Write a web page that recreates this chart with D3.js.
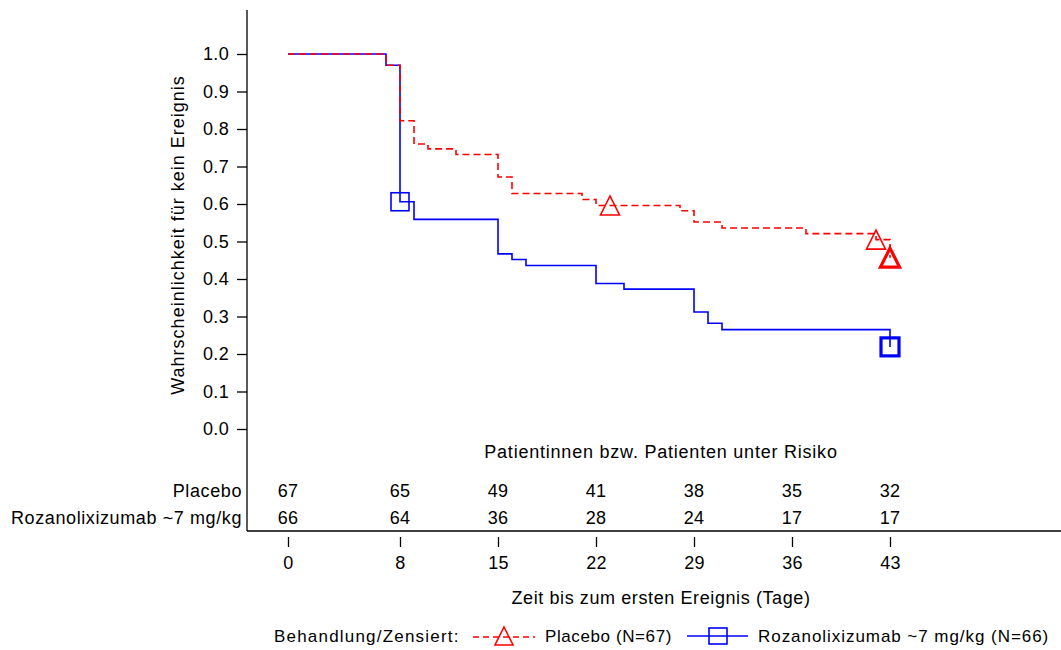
<!DOCTYPE html>
<html>
<head>
<meta charset="utf-8">
<script src="https://cdn.jsdelivr.net/npm/d3@7"></script>
<style>
  html, body { margin: 0; padding: 0; background: #fff; }
  svg { display: block; }
  text { font-family: "Liberation Sans", Arial, sans-serif; fill: #000; }
</style>
</head>
<body>
<svg id="chart" width="1061" height="650"></svg>
<script>
// ---------- data ----------
const placeboTimes = [0, 7, 8, 9, 10, 12, 15, 16, 21, 22, 28, 29, 31, 37, 42, 43];
const placeboSurv  = [1.0, 0.970, 0.822, 0.760, 0.747, 0.732, 0.672, 0.628, 0.612, 0.596, 0.582, 0.552, 0.536, 0.521, 0.505, 0.457];
const rozaTimes = [0, 7, 8, 9, 15, 16, 17, 22, 24, 29, 30, 31, 43];
const rozaSurv  = [1.0, 0.970, 0.606, 0.559, 0.467, 0.452, 0.436, 0.388, 0.373, 0.312, 0.282, 0.265, 0.219];

const placeboCensorT = [23, 42, 43];
const placeboCensorS = [0.596, 0.505, 0.457];
const placeboCensorMulti = [false, false, true];
const rozaCensorT = [8, 43];
const rozaCensorS = [0.606, 0.219];
const rozaCensorMulti = [false, true];

const xTicks = [0, 8, 15, 22, 29, 36, 43];
const yTicks = [0, 0.1, 0.2, 0.3, 0.4, 0.5, 0.6, 0.7, 0.8, 0.9, 1.0];
const riskPlacebo = [67, 65, 49, 41, 38, 35, 32];
const riskRoza = [66, 64, 36, 28, 24, 17, 17];

const riskLabels = ["Placebo", "Rozanolixizumab ~7 mg/kg"];
const legendLabels = ["Placebo (N=67)", "Rozanolixizumab ~7 mg/kg (N=66)"];
const yTitle = "Wahrscheinlichkeit für kein Ereignis";
const xTitle = "Zeit bis zum ersten Ereignis (Tage)";
const riskTitle = "Patientinnen bzw. Patienten unter Risiko";
const legendTitle = "Behandlung/Zensiert:";

// ---------- layout ----------
const RED = "#ff0000", BLUE = "#0000ff";
const svg = d3.select("#chart");
const x = d3.scaleLinear().domain([0, 43]).range([288, 890]);
const y = d3.scaleLinear().domain([0, 1]).range([429, 54]);
const axisX = 247, frameBottom = 531, frameTop = 10, frameRight = 1061;

// frame lines
svg.append("line").attr("x1", axisX).attr("x2", axisX).attr("y1", frameTop).attr("y2", frameBottom)
  .attr("stroke", "#000").attr("stroke-width", 1.3);
svg.append("line").attr("x1", axisX).attr("x2", frameRight).attr("y1", frameBottom).attr("y2", frameBottom)
  .attr("stroke", "#000").attr("stroke-width", 1.3);

// y axis
const gy = svg.append("g").attr("transform", `translate(${axisX},0)`)
  .call(d3.axisLeft(y).tickValues(yTicks).tickFormat(d3.format(".1f")).tickSize(10).tickPadding(8));
gy.select(".domain").remove();
gy.selectAll(".tick line").attr("stroke", "#000").attr("stroke-width", 1.3);
gy.selectAll(".tick text").style("font-size", "18px").style("letter-spacing", "0.3px")
  .style("font-family", "'Liberation Sans', Arial, sans-serif");

// x axis
const gx = svg.append("g").attr("transform", `translate(0,537)`)
  .call(d3.axisBottom(x).tickValues(xTicks).tickFormat(d3.format("d")).tickSize(10).tickPadding(9.5));
gx.select(".domain").remove();
gx.selectAll(".tick line").attr("stroke", "#000").attr("stroke-width", 1.3);
gx.selectAll(".tick text").style("font-size", "18px").style("letter-spacing", "0.3px")
  .style("font-family", "'Liberation Sans', Arial, sans-serif");

// titles
svg.append("text").attr("transform", "translate(178,235) rotate(-90)")
  .attr("text-anchor", "middle").attr("dominant-baseline", "central")
  .style("font-size", "18px").style("letter-spacing", "1px").text(yTitle);
svg.append("text").attr("x", 661).attr("y", 598).attr("text-anchor", "middle").attr("dominant-baseline", "central")
  .style("font-size", "18px").style("letter-spacing", "0.6px").text(xTitle);
svg.append("text").attr("x", 661).attr("y", 452).attr("text-anchor", "middle").attr("dominant-baseline", "central")
  .style("font-size", "18px").style("letter-spacing", "0.78px").text(riskTitle);

// risk table
const rowY = [491, 518];
[riskPlacebo, riskRoza].forEach((row, i) => {
  svg.append("text").attr("x", 242).attr("y", rowY[i]).attr("text-anchor", "end").attr("dominant-baseline", "central")
    .style("font-size", "18px").style("letter-spacing", "0.6px").text(riskLabels[i]);
  svg.append("g").selectAll("text").data(row).join("text")
    .attr("x", (d, j) => x(xTicks[j])).attr("y", rowY[i])
    .attr("text-anchor", "middle").attr("dominant-baseline", "central")
    .style("font-size", "18px").style("letter-spacing", "0.3px").text(d => d);
});

// curves
const line = d3.line().x(d => x(d[0])).y(d => y(d[1])).curve(d3.curveStepAfter);
const rozaPts = rozaTimes.map((t, i) => [t, rozaSurv[i]]);
const placeboPts = placeboTimes.map((t, i) => [t, placeboSurv[i]]);
svg.append("path").attr("d", line(rozaPts)).attr("fill", "none").attr("stroke", BLUE).attr("stroke-width", 1.6);
svg.append("path").attr("d", line(placeboPts)).attr("fill", "none").attr("stroke", RED).attr("stroke-width", 1.6)
  .attr("stroke-dasharray", "7,4");

// censor markers
function triPath(cx, cy, s) {
  const h = s / 2;
  return `M${cx},${cy - h}L${cx + h},${cy + h}L${cx - h},${cy + h}Z`;
}
svg.append("g").selectAll("path").data(placeboCensorT).join("path")
  .attr("d", (t, i) => triPath(x(t), y(placeboCensorS[i]), 19))
  .attr("fill", "none").attr("stroke", RED)
  .attr("stroke-width", (t, i) => placeboCensorMulti[i] ? 3.2 : 1.6);
svg.append("g").selectAll("rect").data(rozaCensorT).join("rect")
  .attr("x", t => x(t) - 9).attr("y", (t, i) => y(rozaCensorS[i]) - 9)
  .attr("width", 18).attr("height", 18)
  .attr("fill", "none").attr("stroke", BLUE)
  .attr("stroke-width", (t, i) => rozaCensorMulti[i] ? 3.2 : 1.6);

// legend
const ly = 636;
svg.append("text").attr("x", 274).attr("y", ly).attr("dominant-baseline", "central")
  .style("font-size", "17px").style("letter-spacing", "1.2px").text(legendTitle);
svg.append("line").attr("x1", 473).attr("x2", 535).attr("y1", ly + 1).attr("y2", ly + 1)
  .attr("stroke", RED).attr("stroke-width", 1.6).attr("stroke-dasharray", "6,4");
svg.append("path").attr("d", triPath(504, ly, 18)).attr("fill", "none").attr("stroke", RED).attr("stroke-width", 1.6);
svg.append("text").attr("x", 545).attr("y", ly).attr("dominant-baseline", "central")
  .style("font-size", "17px").style("letter-spacing", "0.6px").text(legendLabels[0]);
svg.append("line").attr("x1", 687).attr("x2", 748).attr("y1", ly).attr("y2", ly)
  .attr("stroke", BLUE).attr("stroke-width", 1.6);
svg.append("rect").attr("x", 709).attr("y", ly - 8).attr("width", 18).attr("height", 16)
  .attr("fill", "none").attr("stroke", BLUE).attr("stroke-width", 1.6);
svg.append("text").attr("x", 758).attr("y", ly).attr("dominant-baseline", "central")
  .style("font-size", "17px").style("letter-spacing", "0.95px").text(legendLabels[1]);
</script>
</body>
</html>
